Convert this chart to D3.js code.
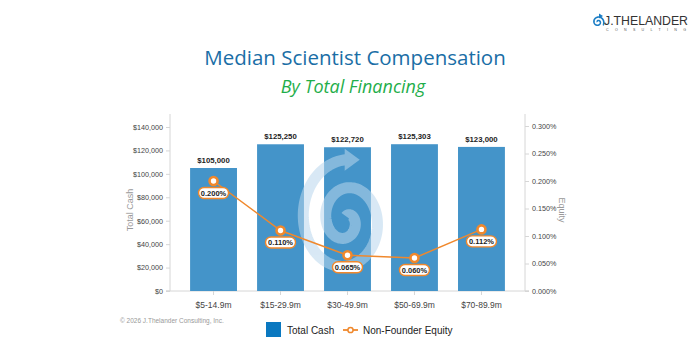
<!DOCTYPE html>
<html><head><meta charset="utf-8">
<script src="https://cdn.jsdelivr.net/npm/d3@7"></script>
<style>body{margin:0;background:#fff}svg{display:block}</style>
</head><body>
<svg id="c" width="700" height="354"></svg>
<script>
const categories = ["$5-14.9m","$15-29.9m","$30-49.9m","$50-69.9m","$70-89.9m"];
const totalCash = [105000,125250,122720,125303,123000];
const equity = [0.200,0.110,0.065,0.060,0.112];
const cashTicks = [0,20000,40000,60000,80000,100000,120000,140000];
const equityTicks = [0,0.05,0.10,0.15,0.20,0.25,0.30];

const svg = d3.select("#c");
const font = "Helvetica, 'Liberation Sans', Arial, sans-serif";
const L = 170, R = 525, T = 126, B = 291;
const x = d3.scaleBand().domain(categories).range([L,R]).paddingInner(0.3).paddingOuter(0.3);
const y = d3.scaleLinear().domain([0,140000]).range([B,127]);
const y2 = d3.scaleLinear().domain([0,0.30]).range([B,126]);

// titles
svg.append("text").attr("x",355).attr("y",65).attr("text-anchor","middle")
  .attr("font-family","'Open Sans', sans-serif").attr("font-size",20.5).attr("fill","#1a6ea6")
  .text("Median Scientist Compensation");
svg.append("text").attr("x",353).attr("y",93).attr("text-anchor","middle")
  .attr("font-family","'Open Sans', sans-serif").attr("font-style","italic").attr("font-size",18).attr("fill","#1fae4a")
  .text("By Total Financing");

// axes
const axL = svg.append("g").attr("transform",`translate(${L},0)`)
  .call(d3.axisLeft(y).tickValues(cashTicks).tickSize(4).tickFormat(d=>"$"+d3.format(",")(d)));
const axR = svg.append("g").attr("transform",`translate(${R},0)`)
  .call(d3.axisRight(y2).tickValues(equityTicks).tickSize(4).tickFormat(d=>d3.format(".3f")(d)+"%"));
const axB = svg.append("g").attr("transform",`translate(0,${B})`)
  .call(d3.axisBottom(x).tickSize(4).tickSizeOuter(0));
[axL,axR,axB].forEach(a=>{
  a.selectAll("path,line").attr("stroke","#d6d6d6");
  a.selectAll("text").attr("font-family",font).attr("fill","#444").attr("font-size",7.2);
});
axL.select("path").attr("d",`M-4,${B}H0V${T-12}`);
axR.select("path").attr("d",`M4,${B}H0V${T-12}`);
axB.select("path").attr("d",`M${L-4},0H${R+4}`);
axB.selectAll("text").attr("font-size",8.5).attr("dy","1.2em");

svg.append("text").attr("transform","translate(133,210) rotate(-90)").attr("text-anchor","middle")
  .attr("font-family",font).attr("font-size",9).attr("fill","#999").text("Total Cash");
svg.append("text").attr("transform","translate(559,210) rotate(90)").attr("text-anchor","middle")
  .attr("font-family",font).attr("font-size",9).attr("fill","#999").text("Equity");

// bars
svg.append("g").selectAll("rect").data(totalCash).join("rect")
  .attr("x",(d,i)=>x(categories[i])).attr("width",x.bandwidth())
  .attr("y",d=>y(d)).attr("height",d=>B-y(d)).attr("fill","#4494c9");
svg.append("g").selectAll("text").data(totalCash).join("text")
  .attr("x",(d,i)=>x(categories[i])+x.bandwidth()/2).attr("y",d=>y(d)-5)
  .attr("text-anchor","middle").attr("font-family",font).attr("font-weight","bold")
  .attr("font-size",7.8).attr("fill","#222").text(d=>"$"+d3.format(",")(d));

// watermark spiral
(function(){
  const cx=346, cy=220, Tt=4*Math.PI;
  const pts=[];
  for(let t=0;t<=Tt+1e-6;t+=0.04){
    const r=3+ t*3.6;
    const a=t-Math.PI/2;
    pts.push([cx+r*Math.cos(a), cy+1.25*r*Math.sin(a)]);
  }
  const g=svg.append("g").attr("opacity",0.55);
  g.append("path").attr("d",d3.line()(pts)).attr("fill","none").attr("stroke","#b9d7ed").attr("stroke-width",11);
  const last=pts[pts.length-1];
  g.append("path").attr("d",`M${last[0]-1},${last[1]-11}L${last[0]+14},${last[1]}L${last[0]-1},${last[1]+11}Z`).attr("fill","#b9d7ed");
})();

// line
const cxp = (i)=>x(categories[i])+x.bandwidth()/2;
svg.append("path").datum(equity).attr("fill","none").attr("stroke","#f0882c").attr("stroke-width",1.5)
  .attr("d",d3.line().x((d,i)=>cxp(i)).y(d=>y2(d)));
svg.append("g").selectAll("circle").data(equity).join("circle")
  .attr("cx",(d,i)=>cxp(i)).attr("cy",d=>y2(d)).attr("r",4)
  .attr("fill","#fff").attr("stroke","#f0882c").attr("stroke-width",2.6);
const lab = svg.append("g").selectAll("g").data(equity).join("g")
  .attr("transform",(d,i)=>`translate(${cxp(i)},${y2(d)+12})`);
lab.append("rect").attr("x",-15).attr("y",-5.5).attr("width",30).attr("height",11).attr("rx",5.5)
  .attr("fill","#fff").attr("stroke","#f0882c").attr("stroke-width",1.4);
lab.append("text").attr("text-anchor","middle").attr("dy","0.35em").attr("font-family",font)
  .attr("font-weight","bold").attr("font-size",7.5).attr("fill","#222").text(d=>d3.format(".3f")(d)+"%");

// legend
svg.append("rect").attr("x",266).attr("y",322).attr("width",15).attr("height",15).attr("fill","#0a78c0");
svg.append("text").attr("x",287).attr("y",333.5).attr("font-family",font).attr("font-size",10).attr("fill","#222").text("Total Cash");
svg.append("line").attr("x1",343).attr("x2",358).attr("y1",330).attr("y2",330).attr("stroke","#f0882c").attr("stroke-width",1.8);
svg.append("circle").attr("cx",350.5).attr("cy",330).attr("r",2.6).attr("fill","#fff").attr("stroke","#f0882c").attr("stroke-width",1.5);
svg.append("text").attr("x",363).attr("y",333.5).attr("font-family",font).attr("font-size",10).attr("fill","#222").text("Non-Founder Equity");

// copyright
svg.append("text").attr("x",120).attr("y",323).attr("font-family",font).attr("font-size",6.5).attr("fill","#999")
  .text("\u00a9 2026 J.Thelander Consulting, Inc.");

// logo
(function(){
  const g=svg.append("g");
  const cx=598, cy=22, pts=[];
  for(let t=0;t<=3.2*Math.PI;t+=0.1){const r=0.6+t*0.55;pts.push([cx+r*Math.cos(t+Math.PI),cy+r*Math.sin(t+Math.PI)]);}
  g.append("path").attr("d",d3.line()(pts)).attr("fill","none").attr("stroke","#1a7cc4").attr("stroke-width",1.6);
  g.append("path").attr("d",`M${cx+1},${cy-8.5}L${cx+5},${cy-6}L${cx+1},${cy-3.5}Z`).attr("fill","#1a7cc4");
  g.append("text").attr("x",604).attr("y",25).attr("font-family",font).attr("font-size",12).attr("fill","#333")
    .attr("textLength",84).attr("lengthAdjust","spacingAndGlyphs").text("J.THELANDER");
  g.append("text").attr("x",606).attr("y",31).attr("font-family",font).attr("font-size",3.6).attr("fill","#555")
    .attr("textLength",80).attr("lengthAdjust","spacing").text("CONSULTING");
})();
</script>
</body></html>
